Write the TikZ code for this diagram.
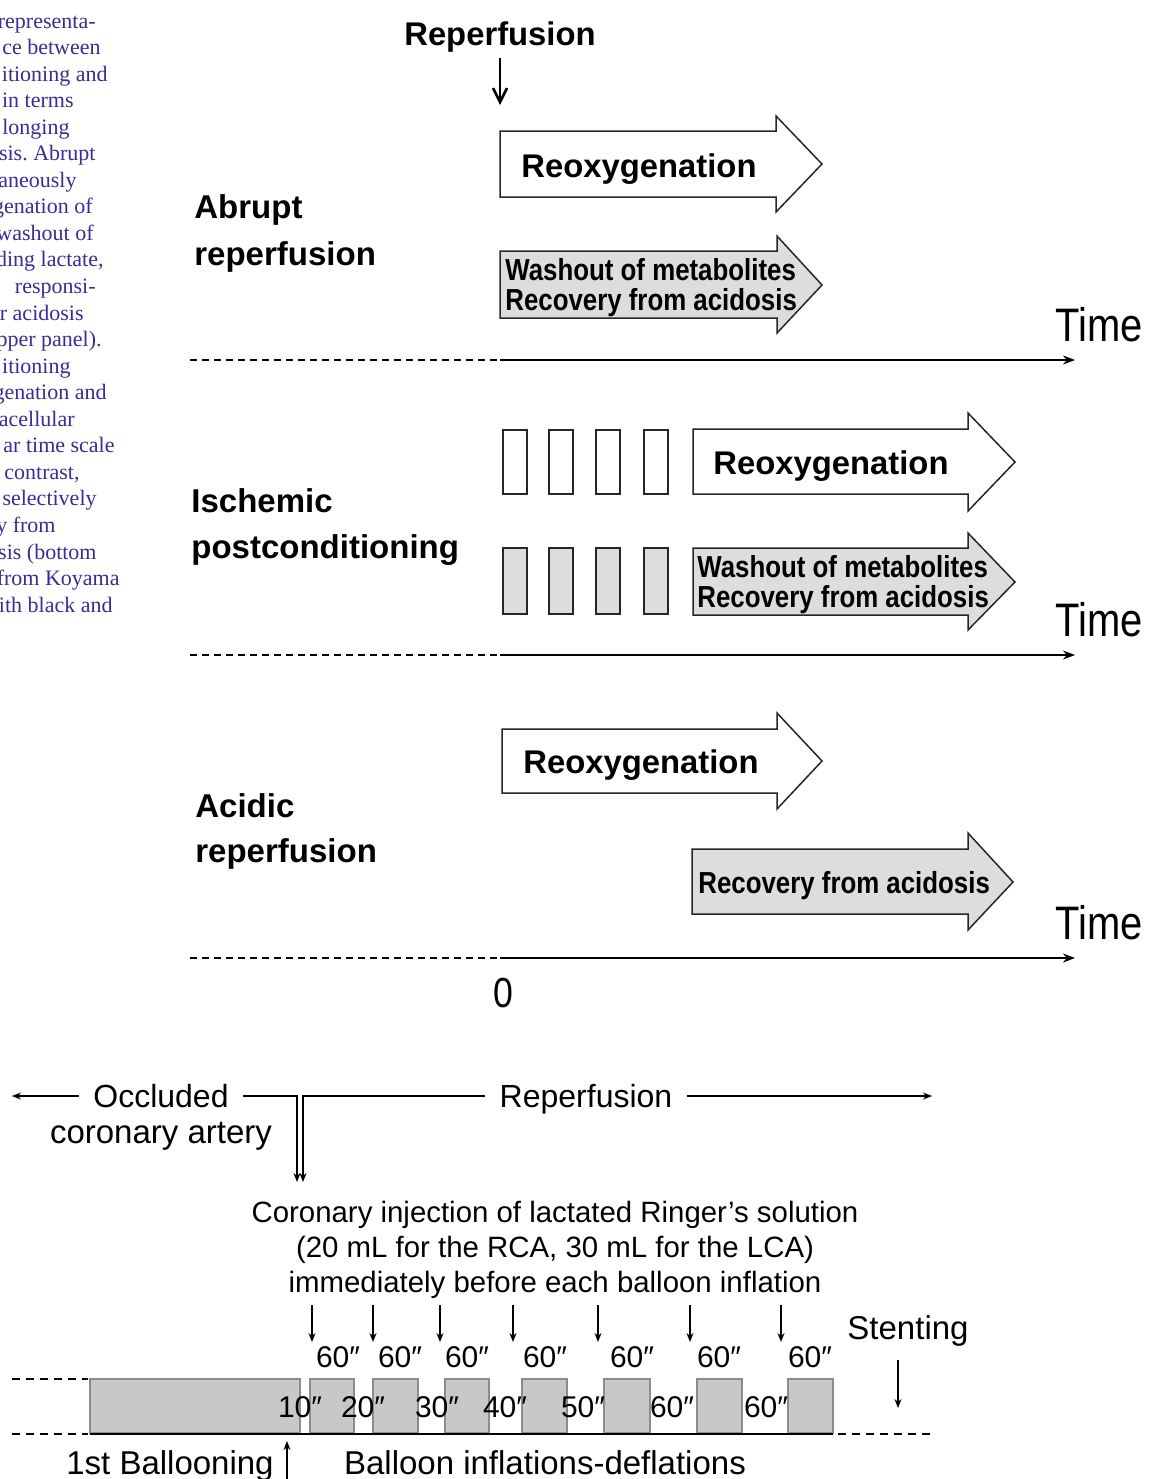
\documentclass[tikz,border=0pt]{standalone}
\usepackage{fontspec}
\setmainfont{Liberation Sans}
\newfontfamily\narrowsans[FakeStretch=0.85]{Liberation Sans}
\newfontfamily\timesface{Liberation Serif}
\usepackage{tikz}
\usetikzlibrary{arrows.meta}
\definecolor{captionblue}{RGB}{55,45,150}
\definecolor{shadegray}{RGB}{221,221,221}
\definecolor{balloongray}{RGB}{200,200,200}
\frenchspacing

\begin{document}
\begin{tikzpicture}[x=0.5pt, y=-0.5pt,
  fatarrow/.style={draw=black!85, line width=0.75pt, line join=miter, fill=white},
  shadearrow/.style={fatarrow, fill=shadegray},
  pulse/.style={draw=black!85, line width=0.75pt},
  gainlabel/.style={font=\bfseries\fontsize{16.4}{20}\selectfont, inner sep=0, anchor=base},
  effectlabel/.style={font=\narrowsans\bfseries\fontsize{15.2}{18}\selectfont, inner sep=0, anchor=base west},
  grouplabel/.style={font=\bfseries\fontsize{16.5}{20}\selectfont, inner sep=0, anchor=base west},
  timelabel/.style={font=\narrowsans\fontsize{23.5}{28}\selectfont, inner sep=0, anchor=base west},
  timeaxis/.style={line width=1pt, -{Stealth[length=6pt, width=4.5pt]}},
  pastaxis/.style={line width=1pt, dash pattern=on 3.5pt off 2.5pt},
  route/.style={font=\fontsize{16}{20}\selectfont, inner xsep=7pt, inner ysep=0pt,
    text height=11.5pt, text depth=0pt},
  plain/.style={font=\fontsize{16.5}{20}\selectfont, inner sep=0, anchor=base},
  inject/.style={font=\fontsize{14.7}{18}\selectfont, inner sep=0, anchor=base},
  secs/.style={font=\fontsize{15}{18}\selectfont, inner sep=0, anchor=base},
  cue/.style={line width=0.6pt, -{Stealth[length=4.5pt, width=3.5pt]}},
  balloon/.style={fill=balloongray, draw=black!45, line width=0.6pt},
  margin/.style={font=\timesface\fontsize{11}{13}\selectfont, text=captionblue,
    inner sep=0, anchor=base east}
]
  \useasboundingbox (0,0) rectangle (1150,1479);

  % clipped caption of the neighbouring column
  \foreach \t/\x [count=\i] in {{representa-}/96, {ce between}/101, {itioning and}/108,
      {in terms}/74, {longing}/70, {sis. Abrupt}/96, {aneously}/77, {genation of}/93,
      {washout of}/94, {ding lactate,}/104, {responsi-}/96, {r acidosis}/84,
      {pper panel).}/102, {itioning}/71, {genation and}/107, {acellular}/75,
      {ar time scale}/115, {contrast,}/80, {selectively}/97, {y from}/56,
      {sis (bottom}/97, {from Koyama}/120, {ith black and}/113}
    \node[margin] (cap\i) at (\x, {1.45+26.55*\i}) {\t};

  % upper figure: three reperfusion modes
  \node[gainlabel] (reperf) at (500,45) {Reperfusion};
  \coordinate (reperftop) at (500,58);
  \coordinate (reperftip) at (500,105);
  \draw[line width=1.3pt, -{Straight Barb[length=7pt, width=7pt, line width=1.3pt]}] (reperftop) -- (reperftip);

  \foreach \y [count=\i] in {360,655,958} {
    \coordinate (past\i) at (190,\y);
    \coordinate (zero\i) at (500,\y);
    \coordinate (late\i) at (1075,\y);
    \draw[pastaxis] (past\i) -- (zero\i);
    \draw[timeaxis] (zero\i) -- (late\i);
    \node[timelabel] (time\i) at (1055,{\y-19}) {Time};
  }
  \node[font=\narrowsans\fontsize{21}{24}\selectfont, inner sep=0] (origin) at (503,993) {0};

  % abrupt reperfusion
  \node[grouplabel] (abrupt) at (194,218) {Abrupt};
  \node[grouplabel] (abruptb) at (194,265) {reperfusion};
  \draw[fatarrow] (500,131) -- (776,131) -- (776,116) -- (822,164) -- (776,212)
    -- (776,197) -- (500,197) -- cycle;
  \node[gainlabel] (reoxyA) at (639,177) {Reoxygenation};
  \draw[shadearrow] (500,251) -- (777,251) -- (777,236) -- (822,285) -- (777,333)
    -- (777,318) -- (500,318) -- cycle;
  \node[effectlabel] (washA) at (505,280) {Washout of metabolites};
  \node[effectlabel] (recovA) at (505,310) {Recovery from acidosis};

  % ischemic postconditioning
  \node[grouplabel] (ischemic) at (191,512) {Ischemic};
  \node[grouplabel] (ischemicb) at (191,558) {postconditioning};
  \foreach \x in {503,549,596,644} {
    \draw[pulse, fill=white] (\x,430) rectangle ++(24,64);
    \draw[pulse, fill=shadegray] (\x,548) rectangle ++(24,66);
  }
  \draw[fatarrow] (693,429) -- (968,429) -- (968,413) -- (1015,462) -- (968,511)
    -- (968,494) -- (693,494) -- cycle;
  \node[gainlabel] (reoxyB) at (831,474) {Reoxygenation};
  \draw[shadearrow] (693,548) -- (968,548) -- (968,533) -- (1015,582) -- (968,630)
    -- (968,615) -- (693,615) -- cycle;
  \node[effectlabel] (washB) at (697,577) {Washout of metabolites};
  \node[effectlabel] (recovB) at (697,607) {Recovery from acidosis};

  % acidic reperfusion
  \node[grouplabel] (acidic) at (195,817) {Acidic};
  \node[grouplabel] (acidicb) at (195,862) {reperfusion};
  \draw[fatarrow] (502,729) -- (777,729) -- (777,713) -- (822,761) -- (777,809)
    -- (777,793) -- (502,793) -- cycle;
  \node[gainlabel] (reoxyC) at (641,773) {Reoxygenation};
  \draw[shadearrow] (692,849) -- (968,849) -- (968,833) -- (1013,882) -- (968,930)
    -- (968,914) -- (692,914) -- cycle;
  \node[effectlabel] (recovC) at (698,893) {Recovery from acidosis};

  % lower figure: protocol
  \node[route] (occluded) at (161,1096) {Occluded};
  \node[plain] (artery) at (161,1143) {coronary artery};
  \node[route] (reperfusion) at (586,1096) {Reperfusion};
  \coordinate (occend) at (12,1096);
  \coordinate (reperfend) at (932,1096);
  \coordinate (injleft) at (297,1182);
  \coordinate (injright) at (303,1182);
  \draw[cue] (occluded.west) -- (occend);
  \draw[cue] (reperfusion.east) -- (reperfend);
  \draw[cue] (occluded.east) -| (injleft);
  \draw[cue] (reperfusion.west) -| (injright);

  \node[inject] (inj1) at (555,1222) {Coronary injection of lactated Ringer’s solution};
  \node[inject] (inj2) at (555,1257) {(20 mL for the RCA, 30 mL for the LCA)};
  \node[inject] (inj3) at (555,1292) {immediately before each balloon inflation};

  \draw[line width=0.7pt, dash pattern=on 4pt off 3pt] (12,1379) -- (88,1379);
  \draw[line width=0.7pt, dash pattern=on 4pt off 3pt] (12,1434) -- (88,1434);
  \draw[line width=0.7pt, dash pattern=on 4pt off 3pt] (838,1434) -- (933,1434);
  \draw[balloon] (90,1379) rectangle (300,1433);
  \foreach \l/\r in {310/354, 373/418, 445/489, 522/567, 604/650, 697/742, 788/833}
    \draw[balloon] (\l,1379) rectangle (\r,1433);
  \draw[line width=1pt] (90,1433.5) -- (833,1433.5);

  \foreach \x [count=\i] in {312,373,440,513,598,690,781} {
    \coordinate (cuetop\i) at (\x,1305);
    \coordinate (cuetip\i) at (\x,1342);
    \draw[cue] (cuetop\i) -- (cuetip\i);
  }
  \foreach \x [count=\i] in {338,400,467,545,632,719,810}
    \node[secs] (inflate\i) at (\x,1367) {60″};
  \foreach \x/\t [count=\i] in {300/10, 363/20, 437/30, 505/40, 583/50, 672/60, 766/60}
    \node[secs] (deflate\i) at (\x,1417) {\t″};

  \node[plain] (stenting) at (908,1339) {Stenting};
  \coordinate (stenttop) at (898,1360);
  \coordinate (stenttip) at (898,1408);
  \draw[cue] (stenttop) -- (stenttip);

  \node[plain] (first) at (170,1474) {1st Ballooning};
  \coordinate (firstfoot) at (287,1479);
  \coordinate (firsttip) at (287,1441);
  \draw[cue] (firstfoot) -- (firsttip);
  \node[plain] (cycles) at (545,1474) {Balloon inflations-deflations};
\end{tikzpicture}
\end{document}
